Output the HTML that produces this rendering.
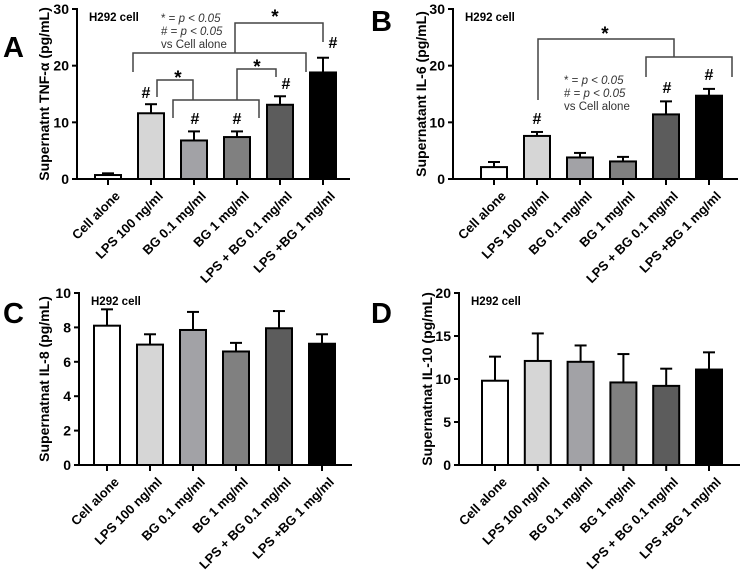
<!DOCTYPE html>
<html><head><meta charset="utf-8"><style>
html,body{margin:0;padding:0;background:#fff}
svg{display:block;font-family:"Liberation Sans",Arial,sans-serif}
</style></head><body>
<svg id="fig" width="741" height="574" viewBox="0 0 741 574"></svg>
<script>
const categories = ["Cell alone","LPS 100 ng/ml","BG 0.1 mg/ml","BG 1 mg/ml","LPS + BG 0.1 mg/ml","LPS +BG 1 mg/ml"];
const tnfMean = [0.7,11.6,6.8,7.4,13.1,18.8];
const tnfErr  = [0.3,1.6,1.6,1.0,1.5,2.6];
const il6Mean = [2.1,7.6,3.8,3.1,11.4,14.7];
const il6Err  = [0.9,0.7,0.8,0.8,2.3,1.2];
const il8Mean = [8.1,7.0,7.85,6.6,7.95,7.05];
const il8Err  = [0.95,0.6,1.05,0.5,1.0,0.55];
const il10Mean = [9.8,12.1,12.0,9.6,9.2,11.1];
const il10Err  = [2.8,3.2,1.9,3.3,2.0,2.0];
const ticksA = [0,10,20,30];
const ticksB = [0,10,20,30];
const ticksC = [0,2,4,6,8,10];
const ticksD = [0,5,10,15,20];
const fills = ["#ffffff","#d6d6d6","#a2a2a6","#808080","#5c5c5c","#000000"];

const svg = document.getElementById('fig');
const NS = "http://www.w3.org/2000/svg";
function mk(tag, attrs, parent){
  const e = document.createElementNS(NS, tag);
  for (const k in attrs) e.setAttribute(k, attrs[k]);
  (parent||svg).appendChild(e);
  return e;
}
function txt(s, attrs, parent){ const t = mk('text', attrs, parent); t.textContent = s; return t; }

function panel(cfg){
  const g = mk('g', {});
  
  
  const yMax = cfg.ticks[cfg.ticks.length-1];
  const y = v => cfg.y0 - (v / yMax) * (cfg.y0 - cfg.yTop);
  const x = i => cfg.x0 + cfg.step * i;
  const L = txt(cfg.id, {x: cfg.letterX, y: cfg.letterY, 'font-size': 29, 'font-weight': 'bold', fill: '#000'}, g);
  
  
  const ax = mk('line', {x1: cfg.ax, y1: cfg.yTop-1, x2: cfg.ax, y2: cfg.y0+1, stroke: '#000', 'stroke-width': 2}, g);
  
  
  cfg.ticks.forEach(t => {
    mk('line', {x1: cfg.ax-5, y1: y(t), x2: cfg.ax, y2: y(t), stroke: '#000', 'stroke-width': 2}, g);
    const tl = txt(String(t), {x: cfg.ax-8, y: y(t)+5, 'text-anchor': 'end', 'font-size': 14, 'font-weight': 'bold'}, g);
    
    
  });
  const xa = mk('line', {x1: cfg.ax-1, y1: cfg.y0, x2: cfg.axEnd, y2: cfg.y0, stroke: '#000', 'stroke-width': 2}, g);
  
  
  const yt = txt(cfg.title, {x: 0, y: 0, 'text-anchor': 'middle', 'font-size': 14, 'font-weight': 'bold',
    transform: `translate(${cfg.titleX},${(cfg.y0+cfg.yTop)/2}) rotate(-90)`}, g);
  
  
  const h = txt('H292 cell', {x: cfg.ax+12, y: cfg.yTop+12, 'font-size': 11.5, 'font-weight': 'bold'}, g);
  
  
  const bw = 26;
  cfg.mean.forEach((m, i) => {
    const cx = x(i);
    const top = y(m + cfg.err[i]);
    const el = mk('line', {x1: cx, y1: top, x2: cx, y2: y(m), stroke: '#000', 'stroke-width': 2}, g);
    
    
    mk('line', {x1: cx-6, y1: top, x2: cx+6, y2: top, stroke: '#000', 'stroke-width': 2}, g);
    const r = mk('rect', {x: cx-bw/2, y: y(m), width: bw, height: Math.max(0, y(0)-y(m)), fill: fills[i], stroke: '#000', 'stroke-width': 2}, g);
    
    
    mk('line', {x1: cx, y1: cfg.y0, x2: cx, y2: cfg.y0+6, stroke: '#000', 'stroke-width': 2}, g);
    const lx = cx + 6, ly = cfg.y0 + 11;
    const cl = txt(categories[i], {x: 0, y: 0, 'text-anchor': 'end', 'font-size': 13, 'font-weight': 'bold',
      transform: `translate(${lx},${ly}) rotate(-45)`, 'dominant-baseline': 'hanging'}, g);
    
    
  });
  return {g, x, y};
}
function path(g, d, name){
  const p = mk('path', {d, fill: 'none', stroke: '#444', 'stroke-width': 1.5}, g);
  
  
}
function mark(g, s, X, Y, size, name){
  const t = txt(s, {x: X, y: Y, 'text-anchor': 'middle', 'font-size': size, 'font-weight': 'bold'}, g);
  
  
}
function legend(g, X, Y){
  const lines = [["* = ","p < 0.05"],["# = ","p < 0.05"],["vs Cell alone",""]];
  lines.forEach((l, k) => {
    const t = mk('text', {x: X, y: Y + k*13, 'font-size': 11.5, fill: '#333'}, g);
    
    
    const a = document.createElementNS(NS, 'tspan'); a.textContent = l[0]; t.appendChild(a);
    if (l[1]) { const b = document.createElementNS(NS, 'tspan'); b.setAttribute('font-style', 'italic'); b.textContent = l[1]; t.appendChild(b); }
  });
}

const A = panel({id:'A', mean: tnfMean, err: tnfErr, ticks: ticksA, ax: 77, axEnd: 350, x0: 108, step: 43,
  y0: 179, yTop: 9, title: 'Supernatnt TNF-α (pg/mL)', titleX: 49, letterX: 3, letterY: 57});
path(A.g, 'M133,72 V53 H306 V72', 'bracket-lps-vs-combo');
path(A.g, 'M235,53 V23 H323 V42', 'bracket-top');
path(A.g, 'M157,97 V80 H193 V100', 'bracket-lps-vs-bg');
path(A.g, 'M173,118 V100 H259 V118', 'bracket-bg');
path(A.g, 'M237,100 V69 H276 V77', 'bracket-bg-vs-combo');
mark(A.g, '*', 275, 23, 19, 'sig-star');
mark(A.g, '*', 178, 84, 19, 'sig-star');
mark(A.g, '*', 257, 73, 19, 'sig-star');
[[146,98],[195,124],[237,124],[286,89],[333,48]].forEach(p => mark(A.g, '#', p[0], p[1], 16, 'hash-mark'));
legend(A.g, 161, 22);

const B = panel({id:'B', mean: il6Mean, err: il6Err, ticks: ticksB, ax: 453, axEnd: 738, x0: 494, step: 43,
  y0: 179, yTop: 9, title: 'Supernatant IL-6 (pg/mL)', titleX: 426, letterX: 371, letterY: 31});
path(B.g, 'M538,100 V39 H674 V57', 'bracket-lps-vs-combo');
path(B.g, 'M646,77 V57 H732 V77', 'bracket-combo');
mark(B.g, '*', 605, 40, 19, 'sig-star');
[[537,124],[667,93],[709,80]].forEach(p => mark(B.g, '#', p[0], p[1], 16, 'hash-mark'));
legend(B.g, 564, 84);

panel({id:'C', mean: il8Mean, err: il8Err, ticks: ticksC, ax: 79, axEnd: 352, x0: 107, step: 43,
  y0: 465, yTop: 293, title: 'Supernatnat IL-8 (pg/mL)', titleX: 49, letterX: 3, letterY: 323});
panel({id:'D', mean: il10Mean, err: il10Err, ticks: ticksD, ax: 459, axEnd: 740, x0: 495, step: 42.8,
  y0: 465, yTop: 293, title: 'Supernatnat IL-10 (pg/mL)', titleX: 432, letterX: 371, letterY: 323});
</script>
</body></html>
